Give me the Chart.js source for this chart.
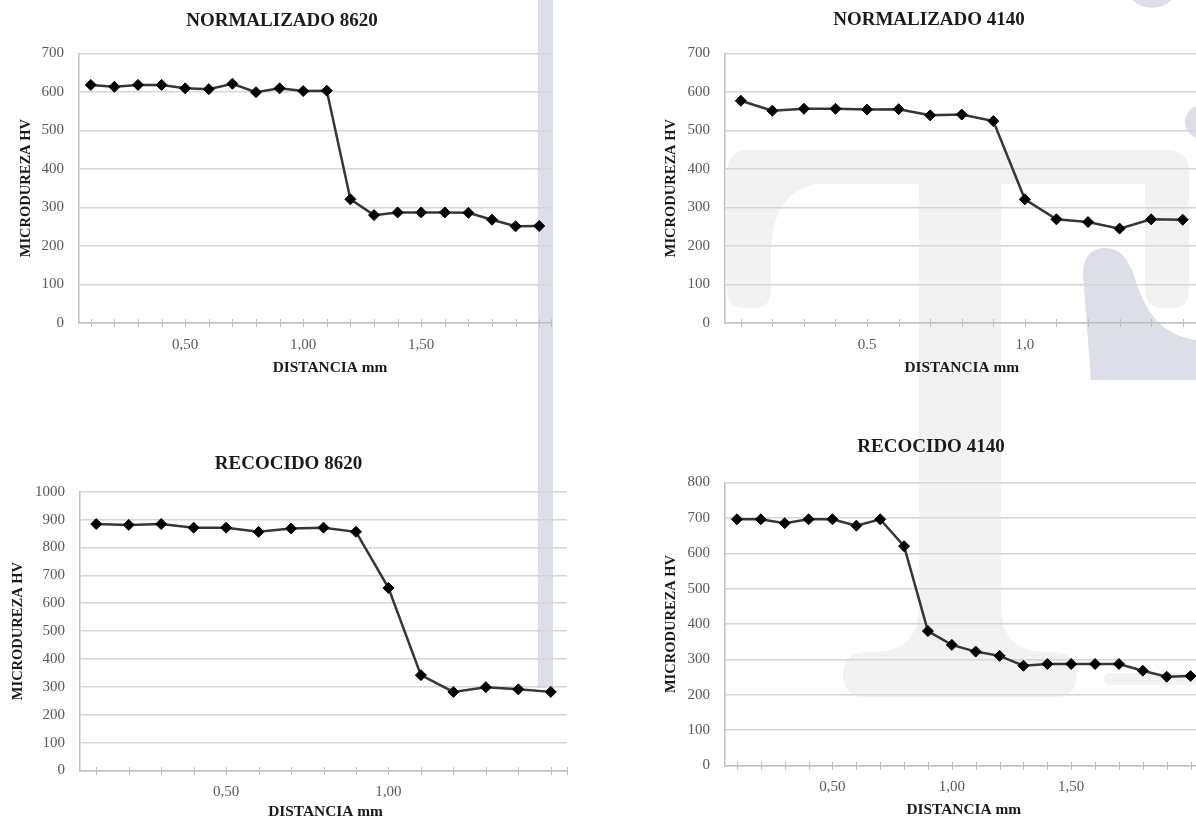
<!DOCTYPE html>
<html lang="es">
<head>
<meta charset="utf-8">
<title>Microdureza HV</title>
<script src="https://cdn.jsdelivr.net/npm/chart.js@4.4.1/dist/chart.umd.min.js"></script>
<style>
  html, body { margin: 0; padding: 0; background: #fff; overflow: hidden; }
  #page { position: relative; width: 1196px; height: 820px; overflow: hidden; background: #fff; }
  canvas { position: absolute; display: block; }
</style>
</head>
<body>
<div id="page">
  <canvas id="bg" width="1196" height="820" style="left:0;top:0"></canvas>
  <canvas id="c1" width="560" height="380" style="left:0;top:0"></canvas>
  <canvas id="c2" width="605" height="380" style="left:600px;top:0"></canvas>
  <canvas id="c3" width="580" height="385" style="left:0;top:440px"></canvas>
  <canvas id="c4" width="609" height="400" style="left:600px;top:420px"></canvas>
</div>
<script>
// ---- measured data (distance in mm, microhardness HV) ----
const distN8620 = [0.1, 0.2, 0.3, 0.4, 0.5, 0.6, 0.7, 0.8, 0.9, 1.0, 1.1, 1.2, 1.3, 1.4, 1.5, 1.6, 1.7, 1.8, 1.9, 2.0];
const hvN8620   = [618, 613, 618, 618, 609, 607, 621, 599, 609, 602, 603, 321, 280, 287, 287, 287, 286, 268, 251, 252];

const distN4140 = [0.1, 0.2, 0.3, 0.4, 0.5, 0.6, 0.7, 0.8, 0.9, 1.0, 1.1, 1.2, 1.3, 1.4, 1.5];
const hvN4140   = [577, 551, 556, 556, 554, 555, 539, 541, 524, 321, 269, 262, 245, 269, 268];

const distR8620 = [0.1, 0.2, 0.3, 0.4, 0.5, 0.6, 0.7, 0.8, 0.9, 1.0, 1.1, 1.2, 1.3, 1.4, 1.5];
const hvR8620   = [884, 881, 884, 871, 871, 856, 868, 871, 856, 655, 342, 282, 299, 291, 282];

const distR4140 = [0.1, 0.2, 0.3, 0.4, 0.5, 0.6, 0.7, 0.8, 0.9, 1.0, 1.1, 1.2, 1.3, 1.4, 1.5, 1.6, 1.7, 1.8, 1.9, 2.0];
const hvR4140   = [696, 696, 685, 696, 696, 678, 696, 620, 380, 341, 322, 310, 282, 287, 287, 287, 287, 268, 251, 253];

// labelled positions on the distance axes and their texts
const xLabelAtA   = [0.5, 1.0, 1.5];
const xLabelTxtA  = ['0,50', '1,00', '1,50'];
const xLabelAtB   = [0.5, 1.0];
const xLabelTxtB  = ['0.5', '1,0'];
const xLabelAtC   = [0.5, 1.0];
const xLabelTxtC  = ['0,50', '1,00'];

const SERIF = '"Liberation Serif", "Times New Roman", Times, serif';
const TICK = '#595959';
const GRID = '#d6d6d6';
const AXIS = '#bfbfbf';
const INK  = '#1a1a1a';

// ---- decorative background letterforms ----
(function drawBackdrop() {
  const g = document.getElementById('bg').getContext('2d');
  g.fillStyle = '#f2f2f2';
  g.beginPath(); g.roundRect(727, 150, 462, 34, [20, 20, 0, 0]); g.fill();
  g.beginPath();
  g.moveTo(727, 170); g.lineTo(727, 290); g.quadraticCurveTo(727, 308, 745, 308);
  g.lineTo(753, 308); g.quadraticCurveTo(771, 308, 771, 290);
  g.lineTo(771, 255); g.bezierCurveTo(772, 205, 790, 182, 840, 181);
  g.lineTo(840, 170); g.closePath(); g.fill();
  g.beginPath();
  g.moveTo(1145, 170); g.lineTo(1145, 290); g.quadraticCurveTo(1145, 308, 1163, 308);
  g.lineTo(1171, 308); g.quadraticCurveTo(1189, 308, 1189, 290); g.lineTo(1189, 170);
  g.closePath(); g.fill();
  g.fillRect(919, 170, 82, 440);
  g.beginPath();
  g.moveTo(919, 600); g.bezierCurveTo(919, 640, 905, 652, 868, 652);
  g.quadraticCurveTo(843, 652, 843, 675); g.quadraticCurveTo(843, 697, 866, 697);
  g.lineTo(1054, 697); g.quadraticCurveTo(1077, 697, 1077, 675);
  g.quadraticCurveTo(1077, 652, 1052, 652); g.bezierCurveTo(1015, 652, 1001, 640, 1001, 600);
  g.closePath(); g.fill();
  g.beginPath(); g.roundRect(1104, 673, 110, 12, 6); g.fill();

  g.fillStyle = '#dcdfe8';
  g.fillRect(538, 0, 15, 688);
  g.beginPath(); g.arc(1152, -20, 28, 0, Math.PI * 2); g.fill();
  g.beginPath(); g.arc(1202, 122, 17, 0, Math.PI * 2); g.fill();
  g.beginPath();
  g.moveTo(1091, 380); g.lineTo(1083, 275);
  g.bezierCurveTo(1083, 255, 1093, 248, 1105, 248);
  g.bezierCurveTo(1122, 248, 1130, 262, 1136, 282);
  g.bezierCurveTo(1148, 318, 1165, 335, 1196, 340);
  g.lineTo(1196, 380); g.closePath(); g.fill();
})();

// small tick marks crossing the distance axis
const crossTicks = {
  id: 'crossTicks',
  beforeDatasetsDraw(chart) {
    const { ctx, chartArea } = chart;
    const x = chart.scales.x;
    const y0 = Math.round(chartArea.bottom);
    ctx.save();
    ctx.strokeStyle = AXIS;
    ctx.lineWidth = 1;
    x.ticks.forEach(t => {
      if (t.value <= x.min + 1e-9) return;
      const px = Math.round(x.getPixelForValue(t.value)) + 0.5;
      ctx.beginPath();
      ctx.moveTo(px, y0 - 4);
      ctx.lineTo(px, y0 + 4);
      ctx.stroke();
    });
    ctx.restore();
  }
};

// distance-axis caption, placed relative to the plot area
const xCaption = {
  id: 'xCaption',
  afterDraw(chart, args, opts) {
    const { ctx, chartArea } = chart;
    ctx.save();
    ctx.font = 'bold ' + opts.size + 'px ' + SERIF;
    ctx.fillStyle = INK;
    ctx.textAlign = 'center';
    ctx.textBaseline = 'middle';
    ctx.fillText(opts.text, (chartArea.left + chartArea.right) / 2 + opts.dx, chartArea.bottom + opts.dy);
    ctx.restore();
  }
};

function buildChart(id, s) {
  return new Chart(document.getElementById(id), {
    type: 'line',
    data: {
      datasets: [{
        data: s.dist.map((d, i) => ({ x: d, y: s.hv[i] })),
        borderColor: '#363636',
        borderWidth: 2.5,
        pointStyle: 'rectRot',
        pointRadius: 5.5,
        pointBackgroundColor: '#000',
        pointBorderColor: '#000',
        pointBorderWidth: 1,
        tension: 0,
        fill: false
      }]
    },
    options: {
      responsive: false,
      animation: false,
      devicePixelRatio: 1,
      layout: { padding: { left: s.padL, right: s.padR, top: 0, bottom: 0 } },
      plugins: {
        legend: { display: false },
        tooltip: { enabled: false },
        title: {
          display: true, text: s.title, color: INK,
          font: { family: SERIF, size: 19, weight: 'bold' },
          padding: { top: s.titleTop, bottom: s.titleBottom }
        },
        xCaption: { text: 'DISTANCIA mm', size: 15.4, dx: s.capDx, dy: s.capDy }
      },
      scales: {
        x: {
          type: 'linear', min: s.xMin, max: s.xMax,
          grid: { display: false, drawTicks: false },
          border: { color: AXIS, width: 1.5 },
          afterBuildTicks: sc => { sc.ticks = [s.xMin, ...s.dist, s.xMax].map(v => ({ value: v })); },
          afterFit: sc => { sc.height = s.xH; sc.paddingLeft = 0; sc.paddingRight = 0; },
          ticks: {
            autoSkip: false, maxRotation: 0, minRotation: 0, padding: 13,
            color: TICK, font: { family: SERIF, size: 15 },
            callback: v => {
              const k = s.lblAt.findIndex(a => Math.abs(a - v) < 1e-6);
              return k < 0 ? '' : s.lblTxt[k];
            }
          }
        },
        y: {
          min: 0, max: s.yMax,
          grid: { color: GRID, lineWidth: 1.5, drawTicks: false },
          border: { color: AXIS, width: 1.5 },
          afterFit: sc => { sc.width = s.yW; },
          ticks: {
            stepSize: 100, padding: 15, color: TICK,
            font: { family: SERIF, size: 15 },
            callback: v => String(v)
          },
          title: {
            display: true, text: 'MICRODUREZA HV', color: INK,
            font: { family: SERIF, size: 14.5, weight: 'bold' },
            padding: { top: s.yTitlePad, bottom: 0 }
          }
        }
      }
    },
    plugins: [crossTicks, xCaption]
  });
}

buildChart('c1', {
  title: 'NORMALIZADO 8620', dist: distN8620, hv: hvN8620, yMax: 700,
  xMin: 0.05, xMax: 2.05, lblAt: xLabelAtA, lblTxt: xLabelTxtA,
  padL: 13, padR: 9, titleTop: 10, titleBottom: 20.5, yW: 66, xH: 57, yTitlePad: 5,
  capDx: 15, capDy: 45
});
buildChart('c2', {
  title: 'NORMALIZADO 4140', dist: distN4140, hv: hvN4140, yMax: 700,
  xMin: 0.05, xMax: 1.55, lblAt: xLabelAtB, lblTxt: xLabelTxtB,
  padL: 53, padR: 0, titleTop: 9, titleBottom: 21.5, yW: 72, xH: 57, yTitlePad: 10,
  capDx: 0, capDy: 45
});
buildChart('c3', {
  title: 'RECOCIDO 8620', dist: distR8620, hv: hvR8620, yMax: 1000,
  xMin: 0.05, xMax: 1.55, lblAt: xLabelAtC, lblTxt: xLabelTxtC,
  padL: 10, padR: 13, titleTop: 12.6, titleBottom: 16.3, yW: 70, xH: 54.5, yTitlePad: 0,
  capDx: 2, capDy: 41.5
});
buildChart('c4', {
  title: 'RECOCIDO 4140', dist: distR4140, hv: hvR4140, yMax: 800,
  xMin: 0.05, xMax: 2.05, lblAt: xLabelAtA, lblTxt: xLabelTxtA,
  padL: 53, padR: 0, titleTop: 15.6, titleBottom: 24.1, yW: 72, xH: 54.5, yTitlePad: 10,
  capDx: 0, capDy: 44.5
});
</script>
</body>
</html>
